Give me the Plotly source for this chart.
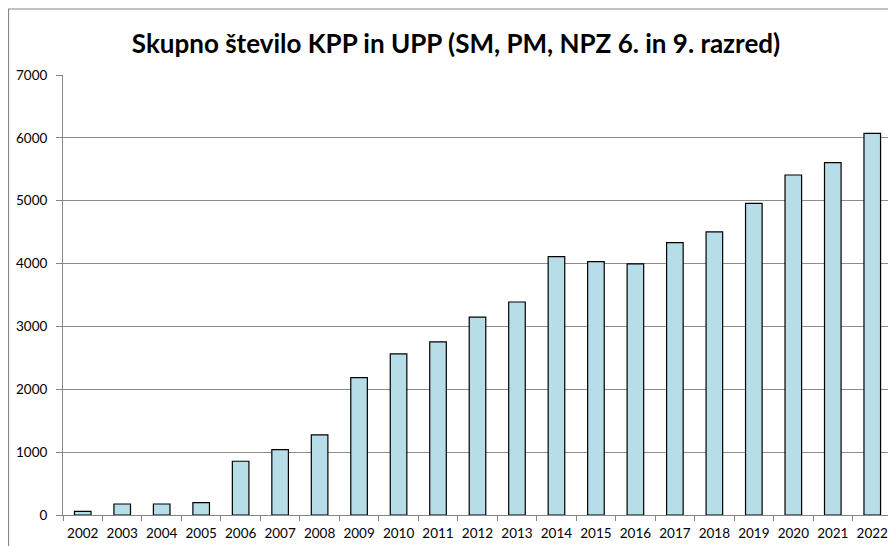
import plotly.graph_objects as go

years = ["2002", "2003", "2004", "2005", "2006", "2007", "2008", "2009", "2010", "2011",
         "2012", "2013", "2014", "2015", "2016", "2017", "2018", "2019", "2020", "2021", "2022"]
values = [59, 175, 175, 197, 855, 1041, 1274, 2186, 2562, 2753,
          3148, 3389, 4111, 4032, 3995, 4334, 4503, 4959, 5409, 5605, 6070]
y_ticks = [0, 1000, 2000, 3000, 4000, 5000, 6000, 7000]
title_text = "Skupno število KPP in UPP (SM, PM, NPZ 6. in 9. razred)"

# page body has an 8px margin, so the figure is drawn at (8, 8) in the window
W, H = 888, 538
L, T, R, B = 55, 67, 4, 31

fig = go.Figure()
fig.add_trace(go.Bar(
    x=years, y=values,
    marker=dict(color="#b7dde8", line=dict(color="#000000", width=1.2)),
    width=0.42,
))

plot_w = W - L - R
plot_h = H - T - B

fig.update_layout(
    width=W, height=H,
    margin=dict(l=L, r=R, t=T, b=B, pad=0),
    paper_bgcolor="white", plot_bgcolor="white",
    showlegend=False,
    font=dict(family="Lato, Carlito, sans-serif", size=13, color="#000000"),
    title=dict(text="<b>" + title_text + "</b>", x=448 / W, xanchor="center", xref="container",
               y=1 - 36 / H, yanchor="middle",
               font=dict(family="Lato, sans-serif", size=26, color="#000000")),
    xaxis=dict(
        type="category", tickson="boundaries", ticks="outside", ticklen=5,
        tickcolor="#868686", showline=True, linecolor="#868686", linewidth=1,
        showgrid=False, tickfont=dict(size=13.5), tickangle=0, ticklabelstandoff=6,
        automargin=False, fixedrange=True,
    ),
    yaxis=dict(
        range=[0, 7000], tickvals=y_ticks, ticktext=[str(v) for v in y_ticks],
        ticks="outside", ticklen=6, tickcolor="#868686",
        showline=True, linecolor="#868686", linewidth=1,
        showgrid=True, gridcolor="#8c8c8c", gridwidth=1, zeroline=False,
        tickfont=dict(size=13.5), ticklabelstandoff=6, automargin=False, fixedrange=True,
    ),
    shapes=[dict(type="rect", xref="paper", yref="paper",
                 x0=-(L - 0.5) / plot_w, x1=1.2, y0=-0.3, y1=1 + (T - 1) / plot_h,
                 line=dict(color="#868686", width=1.2), fillcolor="rgba(0,0,0,0)",
                 layer="below")],
)

fig.write_html("out.html")
